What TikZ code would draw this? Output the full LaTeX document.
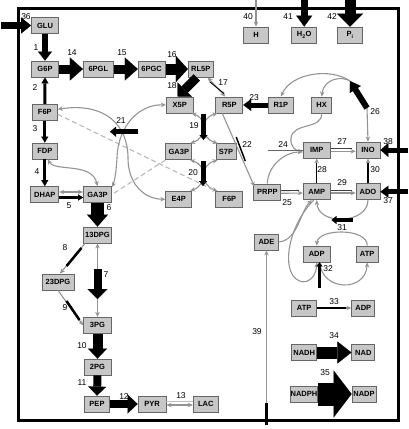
\documentclass[tikz,border=0pt]{standalone}
\usepackage{fontspec}
\setmainfont{Liberation Sans}
\usetikzlibrary{arrows.meta,calc}
\begin{document}
\begin{tikzpicture}[x=1pt,y=-1pt,
  >={Stealth[length=5pt,width=4.5pt]},
  box/.style={draw=black!60, fill=black!22, line width=0.8pt,
    font=\fontsize{7.5}{8}\selectfont\bfseries, minimum height=16pt,
    inner sep=0.3pt, minimum width=#1},
  box/.default=26pt,
  lbl/.style={font=\fontsize{8.5}{9}\selectfont, inner sep=0pt},
  gc/.style={draw=black!42, line width=1.1pt, ->},
  gcc/.style={draw=black!42, line width=1.1pt, <->},
  gdash/.style={draw=black!28, line width=1.1pt, dash pattern=on 5pt off 3pt},
  blk/.style n args={3}{draw=black, line width=#1,
    -{Triangle[length=#3,width=#2,line width=0.1pt]}},
  fluxline/.style={draw=black, line width=#1},
  pairline/.style={draw=black!75, line width=0.9pt}]
\useasboundingbox (0,0) rectangle (409,429);
\draw[line width=3pt] (18,8) rectangle (398,420);

% ---------- nodes ----------
\node[box=27pt] (GLU) at (45,25.5) {GLU};
\node[box=27pt] (G6P) at (45,69) {G6P};
\node[box=30pt] (PGL) at (98.3,69) {6PGL};
\node[box=27pt] (PGC) at (151.7,69) {6PGC};
\node[box=25pt] (RL5P) at (200.8,69) {RL5P};
\node[box=25pt] (H) at (256,35) {H};
\node[box=25pt] (H2O) at (304.2,35) {H\textsubscript{2}O};
\node[box=25pt] (Pi) at (350,35) {P\textsubscript{i}};
\node[box=25pt] (F6Pa) at (44.8,112.3) {F6P};
\node[box=27pt] (X5P) at (179.7,105) {X5P};
\node[box=27pt] (R5P) at (229.3,105) {R5P};
\node[box=25pt] (R1P) at (280.8,105) {R1P};
\node[box=20pt] (HX) at (321.7,105) {HX};
\node[box=25pt] (FDP) at (44.8,151) {FDP};
\node[box=26pt] (GA3Pm) at (178.8,151.7) {GA3P};
\node[box=20pt] (S7P) at (226,151.7) {S7P};
\node[box=26pt] (E4P) at (178.8,199.3) {E4P};
\node[box=27pt] (F6Pm) at (229.3,199.3) {F6P};
\node[box=27pt] (IMP) at (316.7,150) {IMP};
\node[box=24pt] (INO) at (368,150) {INO};
\node[box=27pt] (PRPP) at (267.3,192) {PRPP};
\node[box=27pt] (AMP) at (316.7,191.7) {AMP};
\node[box=24pt] (ADO) at (368,191.7) {ADO};
\node[box=28pt] (DHAP) at (44.8,194.5) {DHAP};
\node[box=28pt] (GA3Pl) at (97.5,194.5) {GA3P};
\node[box=28pt] (DPG13) at (97.5,235) {13DPG};
\node[box=24pt] (ADE) at (266.5,242) {ADE};
\node[box=27pt] (ADP) at (316.7,254) {ADP};
\node[box=22pt] (ATP) at (367.2,254) {ATP};
\node[box=32pt] (DPG23) at (58,282) {23DPG};
\node[box=25pt] (ATPb) at (304.2,308) {ATP};
\node[box=23pt] (ADPb) at (363.3,308) {ADP};
\node[box=25pt] (NADH) at (304.2,352.5) {NADH};
\node[box=23pt] (NAD) at (363.3,352.5) {NAD};
\node[box=25pt] (NADPH) at (304,394) {NADPH};
\node[box=24pt] (NADP) at (364,394) {NADP};
\node[box=28pt] (PG3) at (97.5,325.3) {3PG};
\node[box=27pt] (PG2) at (97.5,367) {2PG};
\node[box=25pt] (PEP) at (97,404) {PEP};
\node[box=28pt] (PYR) at (152,404) {PYR};
\node[box=25pt] (LAC) at (205.8,404) {LAC};

% ---------- free ends ----------
\coordinate (c36) at (1,25.5);
\coordinate (c41) at (304.2,0);
\coordinate (c42) at (350,0);
\coordinate (c40) at (256,0);
\coordinate (c38) at (408,150);
\coordinate (c37) at (408,191.7);
\coordinate (c26a) at (367,108);
\coordinate (c26b) at (350,81);
\coordinate (c21a) at (138,131.7);
\coordinate (c21b) at (110,131.7);
\coordinate (c19a) at (203.5,114);
\coordinate (c19b) at (203.5,140);
\coordinate (c20a) at (203,161);
\coordinate (c20b) at (203,186);
\coordinate (c7a) at (97.5,269);
\coordinate (c7b) at (97.5,299);
\coordinate (c31a) at (353,220);
\coordinate (c31b) at (331.5,220);
\coordinate (c32a) at (319.5,288);
\coordinate (c39) at (266.5,420);
\coordinate (c39a) at (266.5,403);
\coordinate (c39b) at (266.5,425);
\coordinate (c24) at (268,150);
\coordinate (c22a) at (236.2,137);
\coordinate (c22b) at (245.3,161);
\coordinate (c8a) at (81.4,248);
\coordinate (c8b) at (66.6,266);
\coordinate (c9a) at (66.5,301);
\coordinate (c9b) at (79.5,320);
\coordinate (c17a) at (210,82);
\coordinate (c17b) at (224,93.5);

% ---------- grey reaction lines ----------
\draw[gc] (c40) -- (H.north);
\draw[gcc] ([xshift=3pt]FDP.south) .. controls (55,172) and (92,162) .. (GA3Pl.north);
\draw[gcc] ([yshift=2.5pt]DHAP.east) -- ([yshift=2.5pt]GA3Pl.west);
\draw[gcc] (DPG13.south) -- (PG3.north);
\draw[gc] ([xshift=2pt]DPG13.south west) -- ([xshift=2pt]DPG23.north);
\draw[gc] (DPG23.south) -- (PG3.west);
\draw[draw=black!25, line width=1.1pt] ([yshift=2.2pt]PYR.east) -- ([yshift=2.2pt]LAC.west);
\draw[gcc] ([yshift=-1pt]PYR.east) -- ([yshift=-1pt]LAC.west);
\draw[gcc] ([xshift=-6pt]RL5P.south east) -- ([xshift=-4pt]R5P.north);
\draw[fluxline=0.9pt] (c17a) -- (c17b);
% transketolase / transaldolase
\draw[gcc] ([xshift=-2pt]X5P.south east) .. controls (207,118) and (207,138) .. ([xshift=-2pt]GA3Pm.north east);
\draw[gcc] ([xshift=2pt]R5P.south west) .. controls (200,118) and (200,138) .. ([xshift=2pt]S7P.north west);
\draw[gcc] ([xshift=-2pt]GA3Pm.south east) .. controls (207,165) and (207,185) .. ([xshift=-2pt]E4P.north east);
\draw[gcc] ([xshift=2pt]S7P.south west) .. controls (200,165) and (200,185) .. ([xshift=2pt]F6Pm.north west);
\draw[gdash] ([yshift=-2pt]F6Pa.east) -- (F6Pm.north west);
\draw[gdash] (GA3Pm.south west) -- (GA3Pl.east);
\draw[gcc] ([yshift=3pt]F6Pa.east) .. controls (105,102) and (128,125) .. (128,158) .. controls (128,185) and (145,199) .. (E4P.west);
\draw[gcc] (X5P.west) .. controls (140,104) and (118,125) .. (117,158) .. controls (116,175) and (114,183) .. ([yshift=-1pt]GA3Pl.north east);
% 22
\draw[gc] ([xshift=-7pt]R5P.south) -- ($(PRPP.north west)+(1,3)$);
\draw[fluxline=1.5pt] (c22a) -- (c22b);
% purine part
\draw[gc] (c26a) -- (INO.north);
\draw[gc] (c26b) .. controls (332,68) and (292,72) .. (R1P.north);
\draw[gc] (c26b) .. controls (342,76) and (324,78) .. (HX.north);
\draw[gc] (HX.south) .. controls (322,130) and (293,122) .. (291,138) .. controls (290,147) and (296,151) .. ([yshift=-1pt]IMP.west);
\draw[gc] (PRPP.north) .. controls (268,166) and (284,152) .. ([yshift=-2pt]IMP.west);
\draw[draw=black!60, line width=0.8pt] (c24) -- (IMP.west);
\draw[gc] ([yshift=-1.3pt]PRPP.east) -- ([yshift=-1.3pt]AMP.west);
\draw[pairline] ([yshift=1.3pt]PRPP.east) -- ([yshift=1.3pt,xshift=-4pt]AMP.west);
\draw[gc] ([yshift=-1.3pt]IMP.east) -- ([yshift=-1.3pt]INO.west);
\draw[pairline] ([yshift=1.3pt]IMP.east) -- ([yshift=1.3pt,xshift=-4pt]INO.west);
\draw[gc] ([yshift=-1.3pt]AMP.east) -- ([yshift=-1.3pt]ADO.west);
\draw[pairline] ([yshift=1.3pt]AMP.east) -- ([yshift=1.3pt,xshift=-4pt]ADO.west);
\draw[gc] (AMP.north) -- (IMP.south);
\draw[fluxline=1.5pt] (AMP.north) -- ([yshift=-5pt]IMP.south);
\draw[gc] (ADO.north) -- (INO.south);
\draw[fluxline=1.5pt] (ADO.north) -- ([yshift=-5pt]INO.south);
\draw[gc] (ADO.south) .. controls (368,224) and (318,226) .. (AMP.south);
\draw[gc] (ATP.north) .. controls (368,228) and (318,228) .. (ADP.north);
\draw[gc] ([xshift=-3pt]AMP.south) .. controls (292,222) and (283,258) .. (292,274) .. controls (300,288) and (316,282) .. (ADP.south);
\draw[gc] ([xshift=3pt]ADP.south) .. controls (322,292) and (366,292) .. (ATP.south);
\draw[gc] (ADE.east) .. controls (298,240) and (300,212) .. ([xshift=-5pt]AMP.south);
\draw[gc] (c39) -- (ADE.south);
\draw[gc] (ATPb.east) -- (ADPb.west);
\draw[fluxline=1.5pt] (ATPb.east) -- ([xshift=-5pt]ADPb.west);

% ---------- black flux arrows ----------
\draw[blk={7pt}{16pt}{10pt}] (c36) -- (GLU.west);
\draw[blk={6pt}{14pt}{9pt}] (GLU.south) -- (G6P.north);
\draw[blk={9pt}{23pt}{13pt}] (G6P.east) -- (PGL.west);
\draw[blk={9pt}{23pt}{13pt}] (PGL.east) -- (PGC.west);
\draw[blk={11pt}{26pt}{12pt}] (PGC.east) -- (RL5P.west);
\draw[blk={9pt}{20pt}{10pt}] ([xshift=-4pt]RL5P.south) -- ([xshift=-2pt]X5P.north);
\draw[blk={3pt}{7pt}{6pt}] (F6Pa.north) -- (G6P.south);
\draw[blk={3pt}{7pt}{6pt}] (F6Pa.south) -- (FDP.north);
\draw[blk={3pt}{7pt}{6pt}] (FDP.south) -- (DHAP.north);
\draw[blk={2.5pt}{6pt}{5pt}] ([yshift=-3pt]DHAP.east) -- ([yshift=-3pt]GA3Pl.west);
\draw[blk={13pt}{21pt}{12pt}] (GA3Pl.south) -- (DPG13.north);
\draw[blk={8pt}{20pt}{10pt}] (c7a) -- (c7b);
\draw[fluxline=2.5pt] (c8a) -- (c8b);
\draw[fluxline=2.5pt] (c9a) -- (c9b);
\draw[blk={10pt}{19pt}{10pt}] (PG3.south) -- (PG2.north);
\draw[blk={8pt}{18pt}{9pt}] (PG2.south) -- (PEP.north);
\draw[blk={8pt}{19pt}{10pt}] (PEP.east) -- (PYR.west);
\draw[blk={5pt}{12pt}{8pt}] (R1P.west) -- (R5P.east);
\draw[blk={5pt}{10pt}{6pt}] (c21a) -- (c21b);
\draw[blk={5pt}{8pt}{5pt}] (c19a) -- (c19b);
\draw[blk={5pt}{8pt}{5pt}] (c20a) -- (c20b);
\draw[blk={6pt}{13pt}{10pt}] (c26a) -- (c26b);
\draw[blk={5pt}{14pt}{8pt}] (c38) -- (INO.east);
\draw[blk={5pt}{12pt}{8pt}] (c37) -- (ADO.east);
\draw[blk={4pt}{8pt}{5pt}] (c31a) -- (c31b);
\draw[blk={2.5pt}{6pt}{4pt}] (c32a) -- ([xshift=2.8pt]ADP.south);
\draw[blk={7pt}{16pt}{11pt}] (c41) -- (H2O.north);
\draw[blk={11pt}{26pt}{13pt}] (c42) -- (Pi.north);
\draw[blk={12pt}{22pt}{14pt}] (NADH.east) -- (NAD.west);
\draw[blk={23pt}{47pt}{18pt}] (NADPH.east) -- (NADP.west);
\draw[fluxline=2.5pt] (c39a) -- (c39b);

% ---------- labels ----------
\node[lbl] (l36) at (26,16.5) {36};
\node[lbl] (l1) at (36,48) {1};
\node[lbl] (l14) at (72,53) {14};
\node[lbl] (l15) at (122,53) {15};
\node[lbl] (l16) at (172,55) {16};
\node[lbl] (l2) at (35,88) {2};
\node[lbl] (l3) at (35,129) {3};
\node[lbl] (l18) at (172,86) {18};
\node[lbl] (l17) at (223,83) {17};
\node[lbl] (l23) at (254,98) {23};
\node[lbl] (l40) at (248,17) {40};
\node[lbl] (l41) at (288,17) {41};
\node[lbl] (l42) at (332,17) {42};
\node[lbl] (l26) at (375,112) {26};
\node[lbl] (l21) at (121,121) {21};
\node[lbl] (l19) at (194,126) {19};
\node[lbl] (l20) at (193,173) {20};
\node[lbl] (l22) at (247,145) {22};
\node[lbl] (l4) at (37,172) {4};
\node[lbl] (l5) at (69,206) {5};
\node[lbl] (l6) at (109,208) {6};
\node[lbl] (l8) at (65,248) {8};
\node[lbl] (l7) at (106,275) {7};
\node[lbl] (l9) at (65,308) {9};
\node[lbl] (l10) at (82,346) {10};
\node[lbl] (l11) at (82,383) {11};
\node[lbl] (l12) at (124,397) {12};
\node[lbl] (l13) at (181,396) {13};
\node[lbl] (l24) at (283,145) {24};
\node[lbl] (l27) at (342,142) {27};
\node[lbl] (l38) at (388,142) {38};
\node[lbl] (l28) at (322,170) {28};
\node[lbl] (l30) at (375,170) {30};
\node[lbl] (l29) at (342,183) {29};
\node[lbl] (l37) at (388,201) {37};
\node[lbl] (l25) at (287,203) {25};
\node[lbl] (l31) at (342,227.5) {31};
\node[lbl] (l32) at (328,269) {32};
\node[lbl] (l33) at (334,302) {33};
\node[lbl] (l34) at (334,336) {34};
\node[lbl] (l35) at (325,373) {35};
\node[lbl] (l39) at (257,332) {39};
\end{tikzpicture}
\end{document}
